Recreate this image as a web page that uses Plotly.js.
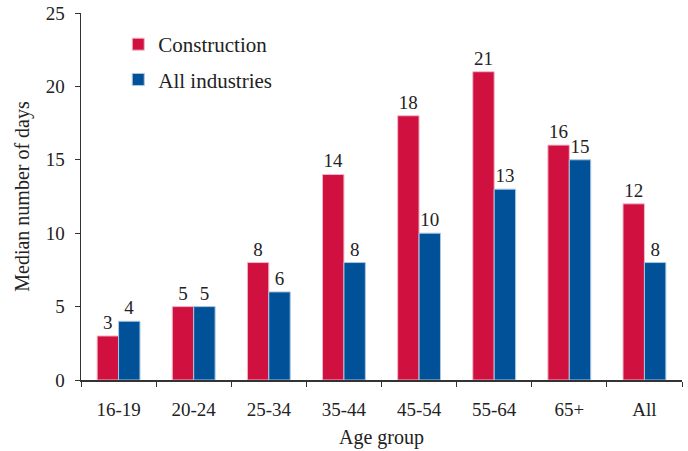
<!DOCTYPE html>
<html><head><meta charset="utf-8">
<script src="https://cdn.plot.ly/plotly-3.0.1.min.js"></script>
<style>body{margin:0;padding:0;background:#fff}#chart{width:688px;height:451px}</style>
</head><body><div id="chart"></div>
<script>
const categories = ["16-19","20-24","25-34","35-44","45-54","55-64","65+","All"];
const construction = [3,5,8,14,18,21,16,12];
const allIndustries = [4,5,6,8,10,13,15,8];
const yTicks = [0,5,10,15,20,25];

const fam = "'Liberation Serif', 'Times New Roman', serif";
const tickFont = {family:fam, size:19, color:"#222"};
const labelFont = {family:fam, size:19, color:"#222"};
const titleFont = {family:fam, size:20, color:"#222"};
const legendFont = {family:fam, size:21, color:"#222"};
const traces = [
  {type:"bar", name:"Construction", x:categories, y:construction, legendgroup:"a",
   marker:{color:"#D0103F", line:{color:"#f2b8c6", width:1}},
   text:construction.map(String), textposition:"outside", cliponaxis:false,
   textfont:labelFont},
  {type:"bar", name:"All industries", x:categories, y:allIndustries, legendgroup:"b",
   marker:{color:"#005197", line:{color:"#a9c6e4", width:1}},
   text:allIndustries.map(String), textposition:"outside", cliponaxis:false,
   textfont:labelFont}
];
const layout = {
  width:688, height:451,
  margin:{l:81, r:6, t:13, b:71},
  paper_bgcolor:"#fff", plot_bgcolor:"#fff",
  font:tickFont,
  barmode:"group", bargap:0.43, bargroupgap:0,
  showlegend:true,
  legend:{x:0.062, y:0.97, xanchor:"left", yanchor:"top", bgcolor:"rgba(0,0,0,0)",
          font:legendFont, itemwidth:30, tracegroupgap:5, traceorder:"grouped"},
  xaxis:{showline:true, linecolor:"#333", linewidth:1.5, ticks:"outside", tickson:"boundaries",
         ticklen:5, tickcolor:"#333", showgrid:false, tickfont:tickFont, ticklabelstandoff:12,
         title:{text:"Age group", font:titleFont, standoff:10}},
  yaxis:{range:[0,25], tickvals:yTicks, showline:true, linecolor:"#333", linewidth:1.5,
         ticks:"outside", ticklen:5, tickcolor:"#333", showgrid:false, zeroline:false,
         tickfont:tickFont, ticklabelstandoff:6,
         title:{text:"Median number of days", font:titleFont, standoff:10}}
};
Plotly.newPlot("chart", traces, layout, {displayModeBar:false, staticPlot:true});
</script></body></html>
